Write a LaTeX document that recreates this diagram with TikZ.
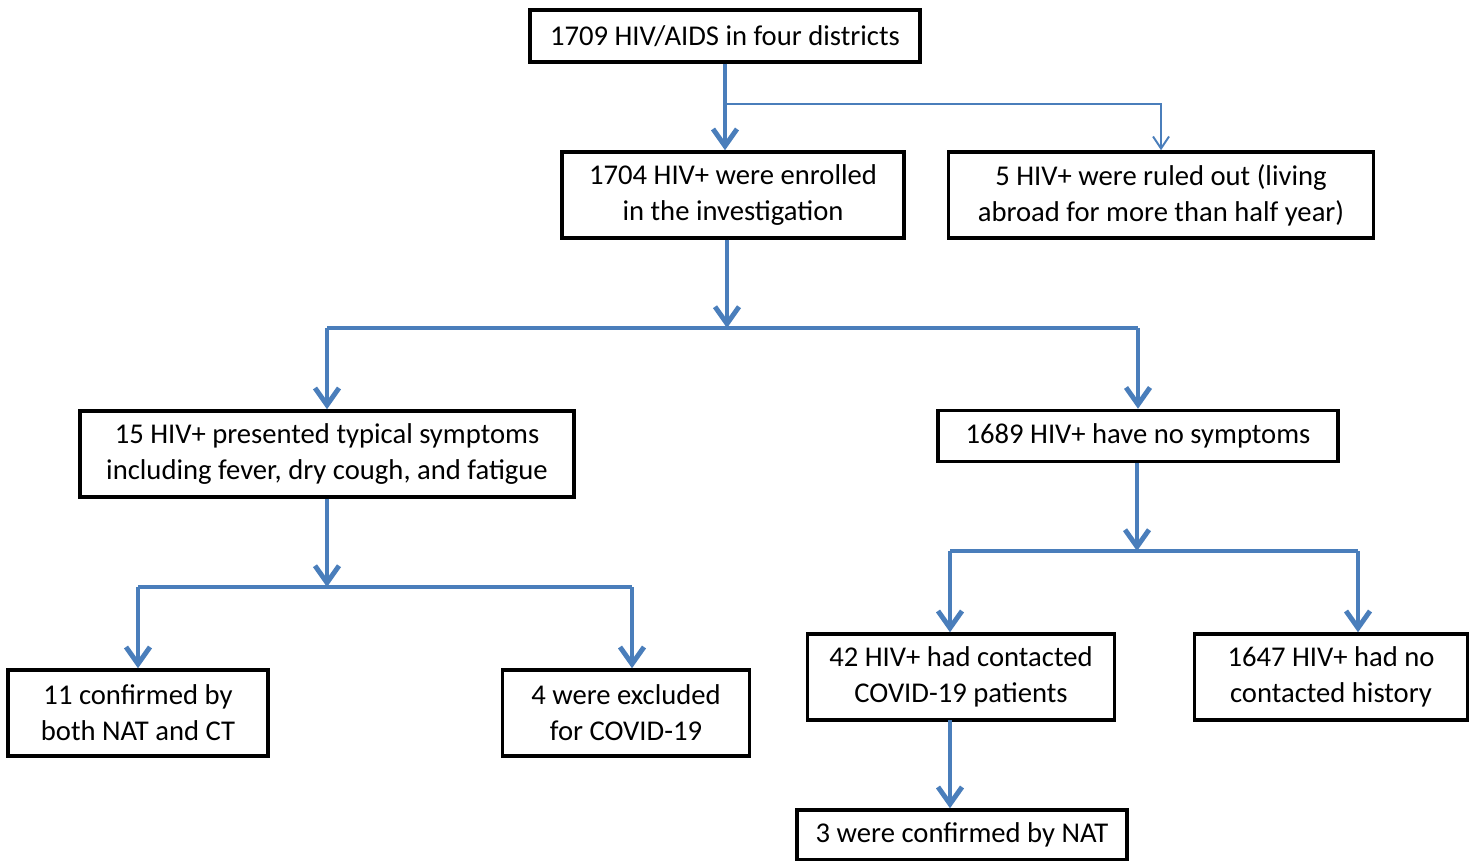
\documentclass[tikz,border=0pt]{standalone}
\usepackage{fontspec}
\setmainfont{Carlito}
\usetikzlibrary{arrows.meta}
\definecolor{bleu}{RGB}{74,126,187}

\begin{document}
\begin{tikzpicture}[x=0.02cm,y=-0.02cm]
\tikzset{boite/.style={draw, line width=2pt, align=center, inner sep=0pt,
    font=\fontsize{16.3}{20.4}\selectfont},
  fleche/.style={draw=bleu, line width=2.8pt, -{Straight Barb[length=3.4mm,width=4.8mm]}},
  trait/.style={draw=bleu, line width=2.8pt},
  fin/.style={draw=bleu, line width=1.1pt, -{Straight Barb[length=2.4mm,width=3.2mm]}}}
\useasboundingbox (0,0) rectangle (1473,861);
\node[boite, minimum width=7.8cm, minimum height=1.04cm] (tot) at (725,36) {1709 HIV/AIDS in four districts};
\node[boite, minimum width=6.84cm, minimum height=1.72cm] (inc) at (733,195) {1704 HIV+ were enrolled\\in the investigation};
\node[boite, minimum width=8.5cm, minimum height=1.72cm] (exc) at (1161,195) {5 HIV+ were ruled out (living\\abroad for more than half year)};
\node[boite, minimum width=9.88cm, minimum height=1.72cm] (sym) at (327,454) {15 HIV+ presented typical symptoms\\including fever, dry cough, and fatigue};
\node[boite, minimum width=8cm, minimum height=1.02cm] (asy) at (1138,436) {1689 HIV+ have no symptoms};
\node[boite, minimum width=5.2cm, minimum height=1.72cm] (conf) at (138,713) {11 confirmed by\\both NAT and CT};
\node[boite, minimum width=4.94cm, minimum height=1.72cm] (excl) at (626,713) {4 were excluded\\for COVID-19};
\node[boite, minimum width=6.14cm, minimum height=1.72cm] (cont) at (961,677) {42 HIV+ had contacted\\COVID-19 patients};
\node[boite, minimum width=5.46cm, minimum height=1.72cm] (nocont) at (1331,677) {1647 HIV+ had no\\contacted history};
\node[boite, minimum width=6.6cm, minimum height=1.0cm] (nat) at (962,835) {3 were confirmed by NAT};
% embranchements
\coordinate (j1) at (725,104);
\coordinate (h1) at (727,328);
\coordinate (h2) at (327,587);
\coordinate (h2r) at (632,587);
\coordinate (h3) at (1137,551);
\coordinate (h3l) at (950,551);
\coordinate (h3r) at (1358,551);
\coordinate (c1) at (950,720);
\draw[fleche] (tot.south -| j1) -- (j1 |- inc.north);
\draw[fin] (j1) -| (exc.north);
\draw[fleche] (inc.south -| h1) -- (h1);
\draw[trait] (sym.north |- h1) -- (asy.north |- h1);
\draw[fleche] (sym.north |- h1) -- (sym.north);
\draw[fleche] (asy.north |- h1) -- (asy.north);
\draw[fleche] (sym.south) -- (h2);
\draw[trait] (conf.north |- h2) -- (h2r);
\draw[fleche] (conf.north |- h2) -- (conf.north);
\draw[fleche] (h2r) -- (h2r |- excl.north);
\draw[fleche] (asy.south -| h3) -- (h3);
\draw[trait] (h3l) -- (h3r);
\draw[fleche] (h3l) -- (h3l |- cont.north);
\draw[fleche] (h3r) -- (h3r |- nocont.north);
\draw[fleche] (c1) -- (c1 |- nat.north);
\end{tikzpicture}
\end{document}
